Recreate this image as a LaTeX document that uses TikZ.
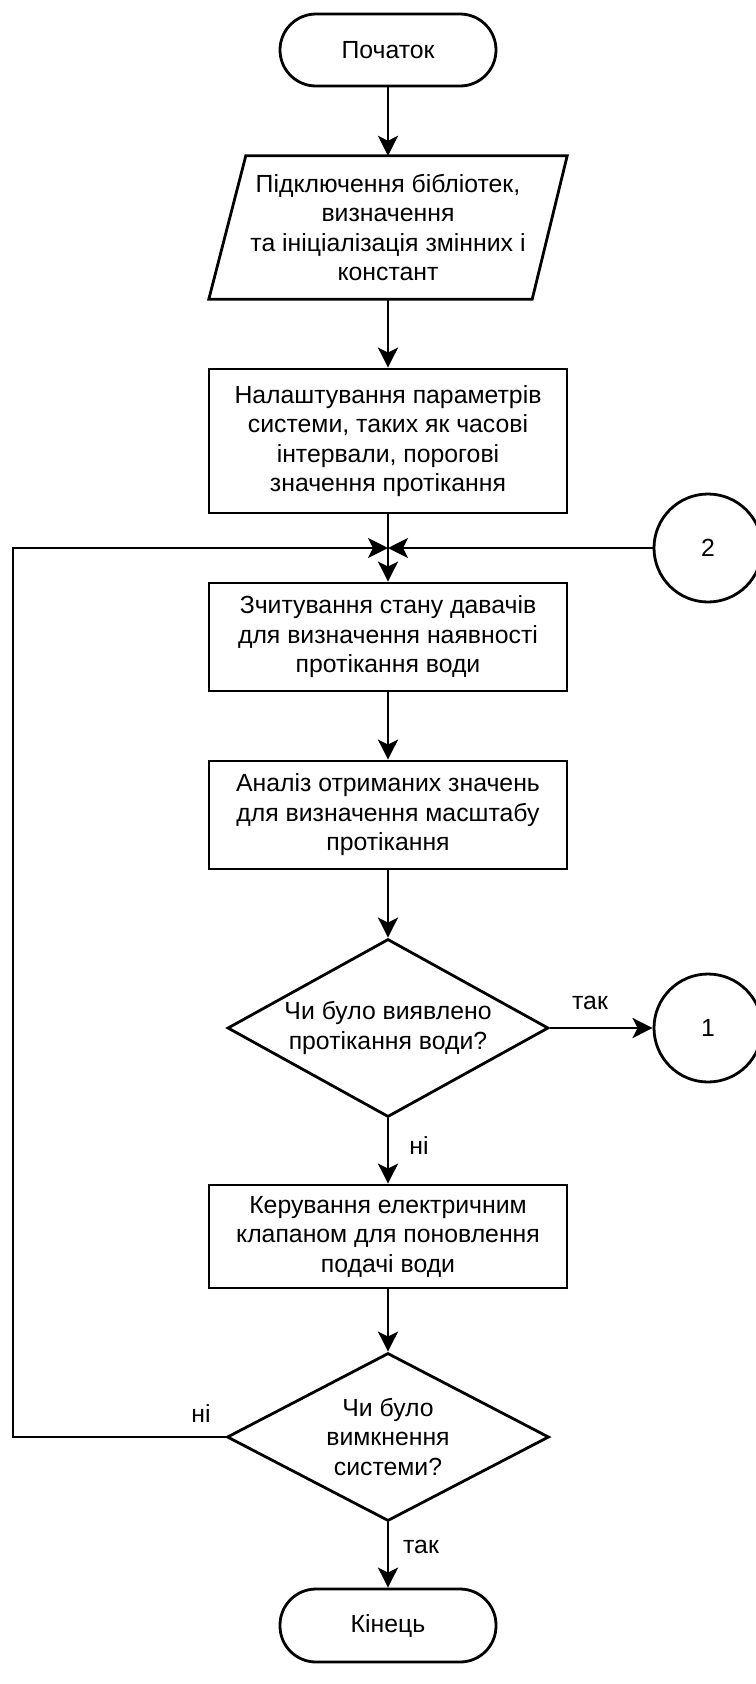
\documentclass[tikz,border=0pt]{standalone}
\usepackage{fontspec}
\setmainfont{Liberation Sans}
\usetikzlibrary{shapes.geometric,arrows.meta,calc}
\begin{document}
\begin{tikzpicture}[x=1pt,y=-1pt,
  every node/.style={font=\fontsize{24.8}{29.5}\selectfont, align=center},
  line/.style={line width=2.8pt},
  arr/.style={line width=2.8pt,-{Stealth[length=20pt,width=20pt,inset=5pt]}},
  term/.style={draw,line width=2.8pt,rectangle,rounded corners=36pt,minimum width=216pt,minimum height=72pt,inner sep=0pt},
  procbox/.style={draw,line width=2.8pt,rectangle,minimum width=358pt,inner sep=0pt},
  decis/.style={draw,line width=2.8pt,diamond,inner sep=0pt},
  conn/.style={draw,line width=2.8pt,circle,minimum size=108pt,inner sep=0pt},
  lbl/.style={inner sep=0pt}]
\useasboundingbox (0,0) rectangle (755,1684);
\node[term] (start) at (388,50) {Початок};
\node[minimum width=358pt,minimum height=143pt,inner sep=0pt] (para) at (388,227.5)
  {Підключення бібліотек,\\ визначення\\ та ініціалізація змінних і\\ констант};
\draw[line] (para.south west) -- ($(para.south east)+(-35,0)$) -- (para.north east) -- ($(para.north west)+(37,0)$) -- cycle;
\node[procbox,minimum height=144pt] (b2) at (388,441)
  {Налаштування параметрів\\ системи, таких як часові\\ інтервали, порогові\\ значення протікання};
\coordinate (jn) at (388,548);
\node[procbox,minimum height=108pt] (b3) at (388,637)
  {Зчитування стану давачів\\ для визначення наявності\\ протікання води};
\node[procbox,minimum height=108pt] (b4) at (388,815)
  {Аналіз отриманих значень\\ для визначення масштабу\\ протікання};
\node[decis,minimum width=321pt,minimum height=178pt] (d1) at (388,1028) {};
\node[lbl] (d1t) at (d1.center) {Чи було виявлено\\ протікання води?};
\node[procbox,minimum height=103pt] (b5) at (388,1236.5)
  {Керування електричним\\ клапаном для поновлення\\ подачі води};
\node[decis,minimum width=322pt,minimum height=168pt] (d2) at (388,1437) {};
\node[lbl] (d2t) at (d2.center) {Чи було\\ вимкнення\\ системи?};
\node[term,minimum height=73pt] (end) at (388,1625.5) {Кінець};
\node[conn] (c2) at (708,548) {2};
\node[conn] (c1) at (708,1028) {1};
\coordinate (lx1) at (13,1437);
\coordinate (lx2) at (13,548);
\draw[arr] (start) -- (para);
\draw[arr] (para) -- (b2);
\draw[line] (b2) -- (jn);
\draw[arr] (jn) -- (b3);
\draw[arr] (b3) -- (b4);
\draw[arr] (b4) -- (d1);
\draw[arr] (d1) -- (b5);
\draw[arr] (b5) -- (d2);
\draw[arr] (d2) -- (end);
\draw[arr] (d1.east) -- (c1.west);
\draw[arr] (c2.west) -- (jn);
\draw[arr] (d2.west) -- (lx1) -- (lx2) -- (jn);
\node[lbl] (t1) at (590,1003) {так};
\node[lbl] (n1) at (419,1145) {ні};
\node[lbl] (n2) at (201,1413) {ні};
\node[lbl] (t2) at (421,1547) {так};
\end{tikzpicture}
\end{document}
